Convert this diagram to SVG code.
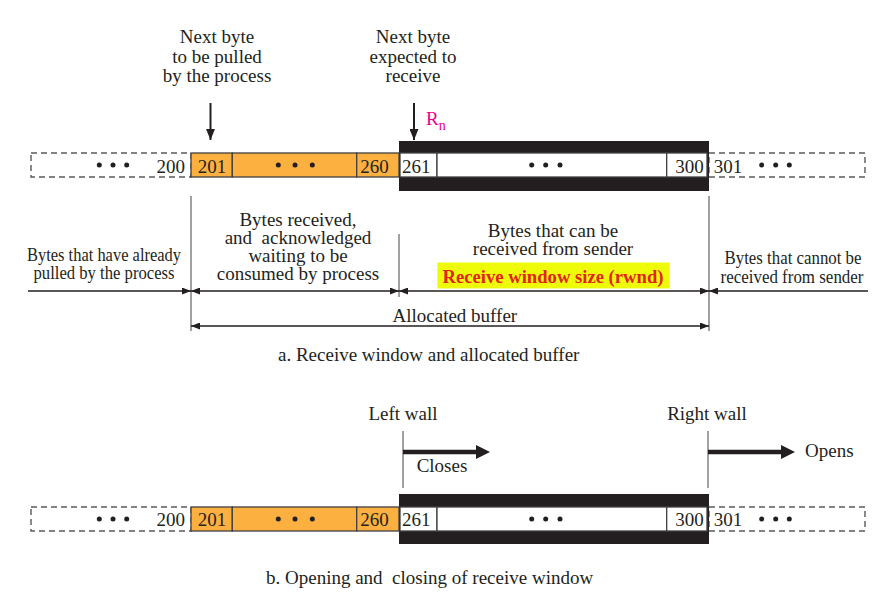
<svg xmlns="http://www.w3.org/2000/svg" width="892" height="612" viewBox="0 0 892 612">
<defs>
<style>
text{font-family:"Liberation Serif","Times New Roman",serif;font-size:19px;fill:#231f20}
.m{text-anchor:middle}
.e{text-anchor:end}
.pink{fill:#ec008c}
.red{fill:#e2231a;font-weight:bold}
.dash{fill:#fff;stroke:#58595b;stroke-width:1.4;stroke-dasharray:6 4}
.org{fill:#fbb040;stroke:#414042;stroke-width:1.3}
.win{fill:#fff;stroke:#414042;stroke-width:1.3}
.band{fill:#231f20}
.dot{fill:#231f20}
.vl{stroke:#6d6e71;stroke-width:1.3;fill:none}
.dim{stroke:#231f20;stroke-width:1.5;fill:none}
.down{stroke:#231f20;stroke-width:2;fill:none}
.thick{stroke:#231f20;stroke-width:4.5;fill:none}
</style>
<marker id="ah" markerUnits="userSpaceOnUse" markerWidth="9" markerHeight="7" refX="9" refY="3.5" orient="auto-start-reverse">
<path d="M0,0 L9,3.5 L0,7 Z" fill="#231f20"/>
</marker>
<marker id="dn" markerUnits="userSpaceOnUse" markerWidth="11" markerHeight="9" refX="11" refY="4.5" orient="auto">
<path d="M0,0 L11,4.5 L0,9 Z" fill="#231f20"/>
</marker>
<marker id="tk" markerUnits="userSpaceOnUse" markerWidth="14" markerHeight="14" refX="6" refY="7" orient="auto">
<path d="M0,0 L14,7 L0,14 Z" fill="#231f20"/>
</marker>
</defs>
<rect width="892" height="612" fill="#fff"/>

<g id="strip-a">
<rect class="dash" x="31" y="153" width="160" height="24"/>
<rect class="dash" x="709" y="153" width="156" height="24"/>
<rect class="org" x="191" y="153" width="41.3" height="24"/>
<rect class="org" x="232.3" y="153" width="124.4" height="24"/>
<rect class="org" x="356.7" y="153" width="42.3" height="24"/>
<rect class="band" x="399" y="141" width="310" height="50"/>
<rect class="win" x="400" y="153" width="37" height="24"/>
<rect class="win" x="437" y="153" width="229.7" height="24"/>
<rect class="win" x="666.7" y="153" width="40.3" height="24"/>
<circle class="dot" cx="99.3" cy="165" r="2.5"/><circle class="dot" cx="113" cy="165" r="2.5"/><circle class="dot" cx="126.7" cy="165" r="2.5"/>
<circle class="dot" cx="278.3" cy="165" r="2.5"/><circle class="dot" cx="295" cy="165" r="2.5"/><circle class="dot" cx="312.3" cy="165" r="2.5"/>
<circle class="dot" cx="531.7" cy="165" r="2.5"/><circle class="dot" cx="545.7" cy="165" r="2.5"/><circle class="dot" cx="560" cy="165" r="2.5"/>
<circle class="dot" cx="761.7" cy="165" r="2.5"/><circle class="dot" cx="775.7" cy="165" r="2.5"/><circle class="dot" cx="789.3" cy="165" r="2.5"/>
<text class="e" x="185" y="172.5">200</text>
<text class="m" x="212" y="172.5">201</text>
<text class="m" x="374.5" y="172.5">260</text>
<text class="m" x="416.3" y="172.5">261</text>
<text class="m" x="689.5" y="172.5">300</text>
<text class="m" x="728" y="172.5">301</text>
</g>

<g id="strip-b" transform="translate(0,354)">
<rect class="dash" x="31" y="153" width="160" height="24"/>
<rect class="dash" x="709" y="153" width="156" height="24"/>
<rect class="org" x="191" y="153" width="41.3" height="24"/>
<rect class="org" x="232.3" y="153" width="124.4" height="24"/>
<rect class="org" x="356.7" y="153" width="42.3" height="24"/>
<rect class="band" x="399" y="140" width="310" height="50"/>
<rect class="win" x="400" y="153" width="37" height="24"/>
<rect class="win" x="437" y="153" width="229.7" height="24"/>
<rect class="win" x="666.7" y="153" width="40.3" height="24"/>
<circle class="dot" cx="99.3" cy="165" r="2.5"/><circle class="dot" cx="113" cy="165" r="2.5"/><circle class="dot" cx="126.7" cy="165" r="2.5"/>
<circle class="dot" cx="278.3" cy="165" r="2.5"/><circle class="dot" cx="295" cy="165" r="2.5"/><circle class="dot" cx="312.3" cy="165" r="2.5"/>
<circle class="dot" cx="531.7" cy="165" r="2.5"/><circle class="dot" cx="545.7" cy="165" r="2.5"/><circle class="dot" cx="560" cy="165" r="2.5"/>
<circle class="dot" cx="761.7" cy="165" r="2.5"/><circle class="dot" cx="775.7" cy="165" r="2.5"/><circle class="dot" cx="789.3" cy="165" r="2.5"/>
<text class="e" x="185" y="172">200</text>
<text class="m" x="212" y="172">201</text>
<text class="m" x="374.5" y="172">260</text>
<text class="m" x="416.3" y="172">261</text>
<text class="m" x="689.5" y="172">300</text>
<text class="m" x="728" y="172">301</text>
</g>

<g id="label-next-pulled">
<text class="m" x="217" y="43">Next byte</text>
<text class="m" x="217" y="62.5">to be pulled</text>
<text class="m" x="217" y="81.5">by the process</text>
</g>
<g id="label-next-expected">
<text class="m" x="413" y="43">Next byte</text>
<text class="m" x="413" y="62.5">expected to</text>
<text class="m" x="413" y="81.5">receive</text>
</g>
<g id="label-rn">
<text class="pink" x="426" y="125">R<tspan font-size="14" dy="4.5">n</tspan></text>
</g>

<g id="label-pulled">
<text class="m" x="104" y="261" textLength="154" lengthAdjust="spacingAndGlyphs">Bytes that have already</text>
<text class="m" x="104" y="279" textLength="141" lengthAdjust="spacingAndGlyphs">pulled by the process</text>
</g>
<g id="label-waiting">
<text class="m" x="298" y="226">Bytes received,</text>
<text class="m" x="298" y="244" xml:space="preserve">and  acknowledged</text>
<text class="m" x="298" y="262">waiting to be</text>
<text class="m" x="298" y="280">consumed by process</text>
</g>
<g id="label-window">
<text class="m" x="553" y="237">Bytes that can be</text>
<text class="m" x="553" y="255">received from sender</text>
<rect x="437.3" y="262.5" width="232.5" height="26" fill="#eefc0a"/>
<text class="m red" x="553" y="283" textLength="221" lengthAdjust="spacingAndGlyphs">Receive window size (rwnd)</text>
</g>
<g id="label-cannot">
<text class="m" x="793" y="264" textLength="137" lengthAdjust="spacingAndGlyphs">Bytes that cannot be</text>
<text class="m" x="792" y="283" textLength="143" lengthAdjust="spacingAndGlyphs">received from sender</text>
</g>
<g id="label-allocated">
<text x="392.5" y="321.5">Allocated buffer</text>
</g>
<g id="caption-a">
<text x="278" y="361">a. Receive window and allocated buffer</text>
</g>

<g id="label-left-wall">
<text class="m" x="403" y="420">Left wall</text>
<text class="m" x="442" y="472">Closes</text>
</g>
<g id="label-right-wall">
<text class="m" x="707" y="420">Right wall</text>
<text x="805" y="457">Opens</text>
</g>
<g id="caption-b">
<text x="266" y="584" xml:space="preserve">b. Opening and  closing of receive window</text>
</g>

<g id="connectors">
<line class="down" x1="210.5" y1="103" x2="210.5" y2="140" marker-end="url(#dn)"/>
<line class="down" x1="414" y1="103" x2="414" y2="140" marker-end="url(#dn)"/>
<line class="vl" x1="191" y1="196" x2="191" y2="331"/>
<line class="vl" x1="399" y1="234" x2="399" y2="297"/>
<line class="vl" x1="709" y1="196" x2="709" y2="331"/>
<line class="dim" x1="28" y1="291" x2="191" y2="291" marker-end="url(#ah)"/>
<line class="dim" x1="191" y1="291" x2="399" y2="291" marker-start="url(#ah)" marker-end="url(#ah)"/>
<line class="dim" x1="399" y1="291" x2="709" y2="291" marker-start="url(#ah)" marker-end="url(#ah)"/>
<line class="dim" x1="868" y1="291" x2="709" y2="291" marker-end="url(#ah)"/>
<line class="dim" x1="191" y1="326" x2="709" y2="326" marker-start="url(#ah)" marker-end="url(#ah)"/>
<line class="vl" x1="403" y1="431" x2="403" y2="488"/>
<line class="vl" x1="708" y1="431" x2="708" y2="488"/>
<line class="thick" x1="403" y1="452" x2="482" y2="452" marker-end="url(#tk)"/>
<line class="thick" x1="708" y1="452" x2="787" y2="452" marker-end="url(#tk)"/>
</g>
</svg>
